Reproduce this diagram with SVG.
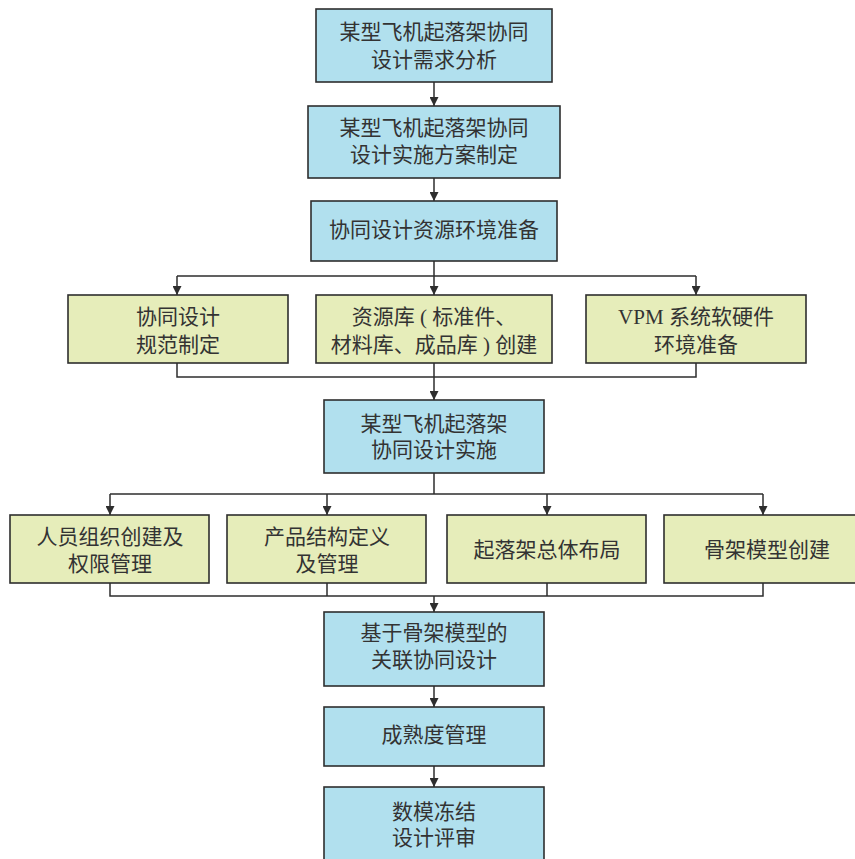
<svg xmlns="http://www.w3.org/2000/svg" width="855" height="859" viewBox="0 0 855 859">
  <style>
    .box rect { stroke: #2e2e2e; stroke-width: 1.6; }
    .main rect { fill: #b1e0ee; }
    .sub rect { fill: #e6edba; }
    .box text { font-family: "Liberation Serif", "Noto Sans CJK SC", serif; font-size: 21px; fill: #333333; text-anchor: middle; dominant-baseline: central; }
    .wire { fill: none; stroke: #2e2e2e; stroke-width: 1.5; }
  </style>
  <defs>
    <marker id="arrow" viewBox="0 0 10 10" refX="10" refY="5" markerWidth="9" markerHeight="9" markerUnits="userSpaceOnUse" orient="auto">
      <path d="M0,0 L10,5 L0,10 Z" fill="#2e2e2e"/>
    </marker>
  </defs>
  <rect width="855" height="859" fill="#ffffff"/>

  <!-- connectors -->
  <g id="connectors">
    <path class="wire" d="M434,82 V106" marker-end="url(#arrow)"/>
    <path class="wire" d="M434,178 V201" marker-end="url(#arrow)"/>
    <!-- split into three preparation tasks -->
    <path class="wire" d="M434,261 V276 M177,276 H696"/>
    <path class="wire" d="M177,276 V295" marker-end="url(#arrow)"/>
    <path class="wire" d="M434,276 V295" marker-end="url(#arrow)"/>
    <path class="wire" d="M696,276 V295" marker-end="url(#arrow)"/>
    <!-- merge back -->
    <path class="wire" d="M177,363 V377 H696 V363"/>
    <path class="wire" d="M434,363 V400" marker-end="url(#arrow)"/>
    <!-- split into four implementation tasks -->
    <path class="wire" d="M434,473 V494 M110,494 H763"/>
    <path class="wire" d="M110,494 V515" marker-end="url(#arrow)"/>
    <path class="wire" d="M327,494 V515" marker-end="url(#arrow)"/>
    <path class="wire" d="M547,494 V515" marker-end="url(#arrow)"/>
    <path class="wire" d="M763,494 V515" marker-end="url(#arrow)"/>
    <!-- merge back -->
    <path class="wire" d="M110,583 V596 H763 V583 M327,583 V596 M547,583 V596"/>
    <path class="wire" d="M434,596 V612" marker-end="url(#arrow)"/>
    <path class="wire" d="M434,686 V707" marker-end="url(#arrow)"/>
    <path class="wire" d="M434,766 V787" marker-end="url(#arrow)"/>
  </g>

  <g id="n1" class="box main">
    <rect x="316" y="9" width="236" height="73"/>
    <text x="434" y="32">某型飞机起落架协同</text>
    <text x="434" y="60">设计需求分析</text>
  </g>
  <g id="n2" class="box main">
    <rect x="308" y="106" width="252" height="72"/>
    <text x="434" y="128">某型飞机起落架协同</text>
    <text x="434" y="155">设计实施方案制定</text>
  </g>
  <g id="n3" class="box main">
    <rect x="311" y="201" width="246" height="60"/>
    <text x="434" y="230">协同设计资源环境准备</text>
  </g>

  <g id="n4a" class="box sub">
    <rect x="68" y="295" width="220" height="68"/>
    <text x="178" y="317">协同设计</text>
    <text x="178" y="345">规范制定</text>
  </g>
  <g id="n4b" class="box sub">
    <rect x="316" y="295" width="236" height="68"/>
    <text x="434" y="317">资源库 ( 标准件、</text>
    <text x="434" y="345">材料库、成品库 ) 创建</text>
  </g>
  <g id="n4c" class="box sub">
    <rect x="586" y="295" width="220" height="68"/>
    <text x="696" y="317">VPM 系统软硬件</text>
    <text x="696" y="345">环境准备</text>
  </g>

  <g id="n5" class="box main">
    <rect x="324" y="400" width="220" height="73"/>
    <text x="434" y="424">某型飞机起落架</text>
    <text x="434" y="450">协同设计实施</text>
  </g>

  <g id="n6a" class="box sub">
    <rect x="10" y="515" width="199" height="68"/>
    <text x="110" y="537">人员组织创建及</text>
    <text x="110" y="564">权限管理</text>
  </g>
  <g id="n6b" class="box sub">
    <rect x="227" y="515" width="199" height="68"/>
    <text x="327" y="537">产品结构定义</text>
    <text x="327" y="564">及管理</text>
  </g>
  <g id="n6c" class="box sub">
    <rect x="447" y="515" width="199" height="68"/>
    <text x="547" y="550">起落架总体布局</text>
  </g>
  <g id="n6d" class="box sub">
    <rect x="664" y="515" width="200" height="68"/>
    <text x="767" y="550">骨架模型创建</text>
  </g>

  <g id="n7" class="box main">
    <rect x="324" y="612" width="220" height="74"/>
    <text x="434" y="633">基于骨架模型的</text>
    <text x="434" y="660">关联协同设计</text>
  </g>
  <g id="n8" class="box main">
    <rect x="324" y="707" width="220" height="59"/>
    <text x="434" y="735">成熟度管理</text>
  </g>
  <g id="n9" class="box main">
    <rect x="324" y="787" width="220" height="90"/>
    <text x="434" y="812">数模冻结</text>
    <text x="434" y="838">设计评审</text>
  </g>
</svg>
